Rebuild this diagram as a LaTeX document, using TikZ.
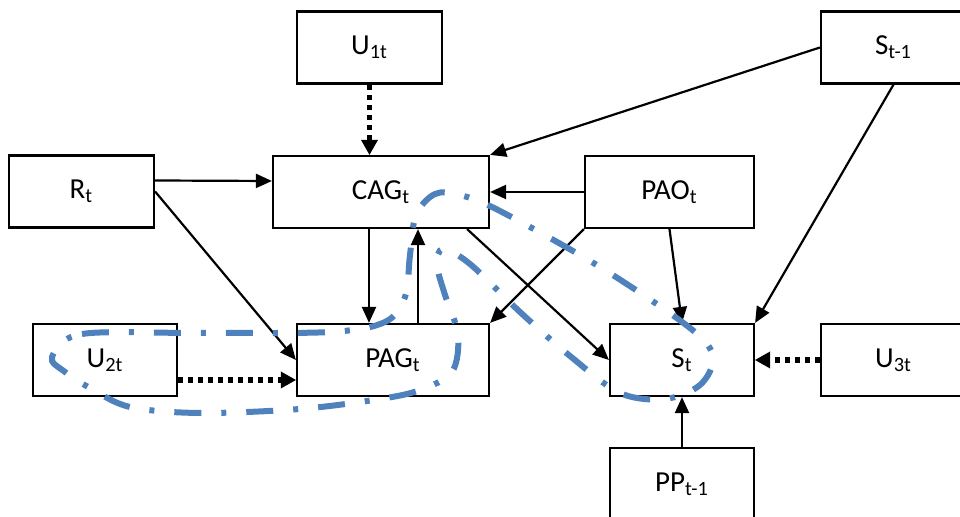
\documentclass[tikz,border=0pt]{standalone}
\usepackage{fontspec}
\setmainfont{Carlito}
\usetikzlibrary{arrows.meta,calc}
\definecolor{loopblue}{RGB}{79,129,189}
\begin{document}
\begin{tikzpicture}[x=0.5pt,y=-0.5pt,
  box/.style={draw, line width=1.1pt, inner sep=0pt, minimum height=36pt,
    font=\fontsize{14.5}{16}\selectfont},
  arr/.style={line width=1.1pt, -{Triangle[length=8pt,width=7pt]}},
  dotarr/.style={line width=2.6pt, dash pattern=on 2.5pt off 2.5pt,
    -{Triangle[length=7.5pt,width=8.5pt,line width=0pt]}},
  loopline/.style={loopblue, line width=3pt, dash pattern=on 13.5pt off 10pt on 2.5pt off 10pt}]
\useasboundingbox (0,0) rectangle (960,517);
% boxes
\node[box, minimum width=72.5pt] (u1) at (369.5,47.5) {U\textsubscript{1t}};
\node[box, minimum width=72.5pt] (st1) at (893.5,47.5) {S\textsubscript{t-1}};
\node[box, minimum width=72.5pt] (rt) at (81.5,191.5) {R\textsubscript{t}};
\node[box, minimum width=108pt] (cag) at (381,192) {CAG\textsubscript{t}};
\node[box, minimum width=84.5pt] (pao) at (669.5,192) {PAO\textsubscript{t}};
\node[box, minimum width=72pt] (u2) at (105,360) {U\textsubscript{2t}};
\node[box, minimum width=96pt] (pag) at (393,360) {PAG\textsubscript{t}};
\node[box, minimum width=72pt] (st) at (682,360) {S\textsubscript{t}};
\node[box, minimum width=72.5pt] (u3) at (893.5,360) {U\textsubscript{3t}};
\node[box, minimum width=72pt] (pp) at (682,484) {PP\textsubscript{t-1}};
% connectors
\draw[dotarr] (u1.south) -- (u1.south |- cag.north);
\draw[arr] ([yshift=5.5pt]rt.east) -- ([yshift=5.5pt]cag.west);
\draw[arr] (rt.east) -- (pag.west);
\draw[arr] (st1.west) -- (cag.north east);
\draw[arr] (st1.south) -- (st.north east);
\draw[arr] (pao.west) -- (cag.east);
\draw[arr] (pao.south west) -- (pag.north east);
\draw[arr] (pao.south) -- (st.north);
\draw[arr] ([xshift=-6pt]cag.south) -- ([xshift=-6pt]cag.south |- pag.north);
\draw[arr] ([xshift=12.5pt]pag.north) -- ([xshift=12.5pt]pag.north |- cag.south);
\draw[arr] ([xshift=-11.5pt]cag.south east) -- (st.west);
\draw[dotarr] ([yshift=-10pt]u2.east) -- ([yshift=-10pt]u2.east -| pag.west);
\draw[dotarr] (u3.west) -- (st.east);
\draw[arr] (pp.north) -- (st.south);
% loop
\draw[loopline] plot[smooth cycle, tension=0.55] coordinates {
 (52,357) (82,334) (200,333) (330,332) (385,322) (405,297) (410,255)
 (416,215) (435,194) (460,195) (500,211) (600,267) (690,328) (713,357)
 (700,385) (665,399) (620,393) (570,356) (520,312) (470,264) (443,249)
 (437,265) (445,295) (458,335) (452,372) (420,390) (380,399) (300,409)
 (200,413) (130,407) (90,388) (65,372)};
\end{tikzpicture}
\end{document}
